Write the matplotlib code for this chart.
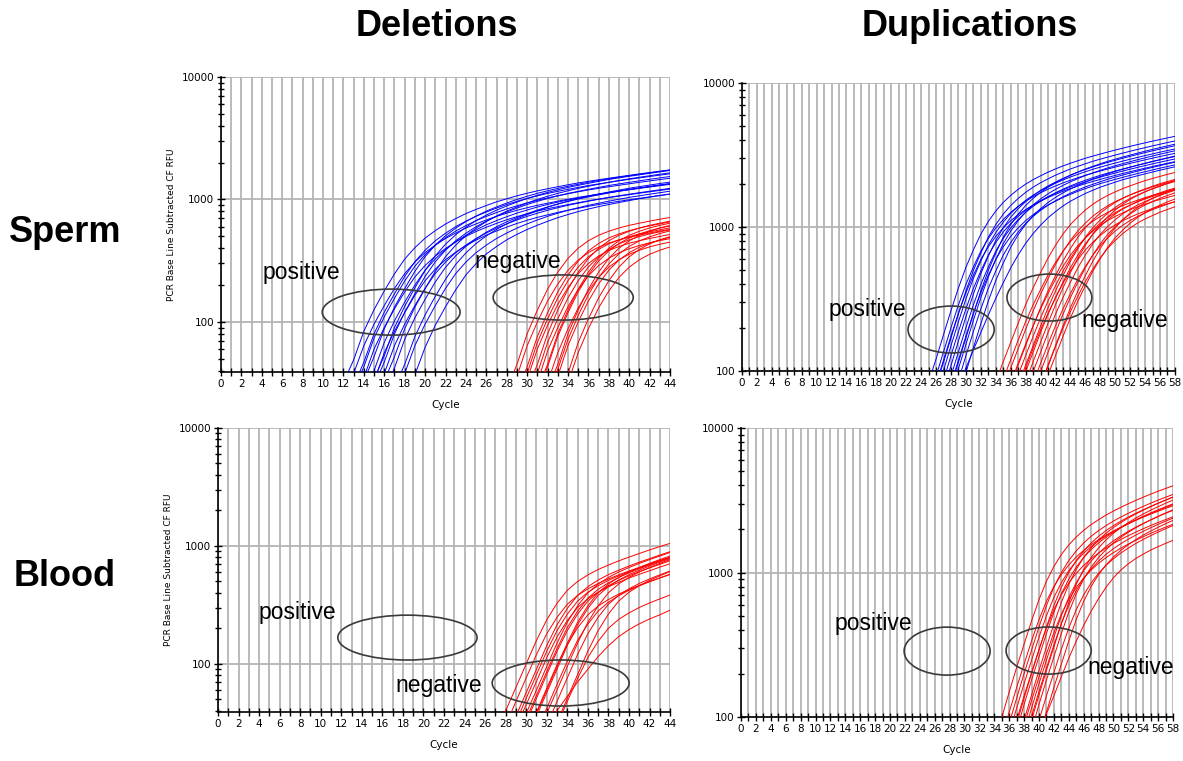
import matplotlib
matplotlib.use("Agg")
import matplotlib.pyplot as plt
from matplotlib.patches import Ellipse
from matplotlib.ticker import FixedLocator, FixedFormatter, LogLocator, NullFormatter

plt.rcParams['font.family'] = ['DejaVu Sans']

# each curve: first cycle, then RFU at every following cycle
del_sperm_pos_start = [12, 12, 13, 13, 14, 14, 15, 15, 16, 16, 17, 18, 13, 15, 17, 14]
del_sperm_pos = [
    [32, 49, 84, 126, 179, 247, 326, 404, 483, 557, 630, 698, 767, 830, 893, 956, 1013, 1071, 1124, 1176, 1223, 1271, 1318, 1365, 1407, 1449, 1491, 1533, 1575, 1617, 1659, 1701, 1743],
    [24, 38, 64, 96, 136, 188, 248, 308, 368, 424, 480, 532, 584, 632, 680, 728, 772, 816, 856, 896, 932, 968, 1004, 1040, 1072, 1104, 1136, 1168, 1200, 1232, 1264, 1296, 1328],
    [30, 47, 80, 120, 170, 235, 310, 385, 460, 530, 600, 665, 730, 790, 850, 910, 965, 1020, 1070, 1120, 1165, 1210, 1255, 1300, 1340, 1380, 1420, 1460, 1500, 1540, 1580, 1620],
    [23, 35, 60, 90, 128, 176, 233, 289, 345, 398, 450, 499, 548, 593, 638, 683, 724, 765, 803, 840, 874, 908, 941, 975, 1005, 1035, 1065, 1095, 1125, 1155, 1185, 1215],
    [33, 52, 88, 132, 187, 259, 341, 424, 506, 583, 660, 732, 803, 869, 935, 1001, 1062, 1122, 1177, 1232, 1282, 1331, 1381, 1430, 1474, 1518, 1562, 1606, 1650, 1694, 1738],
    [26, 40, 68, 102, 145, 200, 264, 327, 391, 451, 510, 565, 621, 672, 723, 774, 820, 867, 910, 952, 990, 1029, 1067, 1105, 1139, 1173, 1207, 1241, 1275, 1309, 1343],
    [30, 47, 80, 120, 170, 235, 310, 385, 460, 530, 600, 665, 730, 790, 850, 910, 965, 1020, 1070, 1120, 1165, 1210, 1255, 1300, 1340, 1380, 1420, 1460, 1500, 1540],
    [24, 38, 64, 96, 136, 188, 248, 308, 368, 424, 480, 532, 584, 632, 680, 728, 772, 816, 856, 896, 932, 968, 1004, 1040, 1072, 1104, 1136, 1168, 1200, 1232],
    [27, 42, 72, 108, 153, 212, 279, 347, 414, 477, 540, 599, 657, 711, 765, 819, 869, 918, 963, 1008, 1049, 1089, 1130, 1170, 1206, 1242, 1278, 1314, 1350],
    [33, 52, 88, 132, 187, 259, 341, 424, 506, 583, 660, 732, 803, 869, 935, 1001, 1062, 1122, 1177, 1232, 1282, 1331, 1381, 1430, 1474, 1518, 1562, 1606, 1650],
    [29, 45, 76, 114, 162, 223, 295, 366, 437, 504, 570, 632, 694, 751, 808, 865, 917, 969, 1017, 1064, 1107, 1150, 1192, 1235, 1273, 1311, 1349, 1387],
    [23, 37, 62, 94, 133, 183, 242, 300, 359, 413, 468, 519, 569, 616, 663, 710, 753, 796, 835, 874, 909, 944, 979, 1014, 1045, 1076, 1108],
    [28, 43, 74, 110, 156, 216, 285, 354, 423, 488, 552, 612, 672, 727, 782, 837, 888, 938, 984, 1030, 1072, 1113, 1155, 1196, 1233, 1270, 1306, 1343, 1380, 1417, 1454, 1490],
    [34, 53, 90, 134, 190, 263, 347, 431, 515, 594, 672, 745, 818, 885, 952, 1019, 1081, 1142, 1198, 1254, 1305, 1355, 1406, 1456, 1501, 1546, 1590, 1635, 1680, 1725],
    [24, 38, 64, 96, 136, 188, 248, 308, 368, 424, 480, 532, 584, 632, 680, 728, 772, 816, 856, 896, 932, 968, 1004, 1040, 1072, 1104, 1136, 1168],
    [21, 33, 56, 84, 119, 165, 217, 270, 322, 371, 420, 466, 511, 553, 595, 637, 676, 714, 749, 784, 816, 847, 879, 910, 938, 966, 994, 1022, 1050, 1078, 1106],
]

del_sperm_neg_start = [28, 28, 29, 29, 30, 30, 31, 31, 32, 32, 33, 33, 29, 30, 31, 32]
del_sperm_neg = [
    [28, 45, 80, 125, 185, 255, 330, 400, 460, 510, 550, 585, 615, 640, 665, 690, 712],
    [22, 36, 64, 100, 148, 204, 264, 320, 368, 408, 440, 468, 492, 512, 532, 552, 570],
    [27, 43, 76, 119, 176, 242, 314, 380, 437, 485, 523, 556, 584, 608, 632, 656],
    [21, 34, 60, 94, 139, 191, 248, 300, 345, 383, 413, 439, 461, 480, 499, 518],
    [28, 45, 80, 125, 185, 255, 330, 400, 460, 510, 550, 585, 615, 640, 665],
    [24, 38, 68, 106, 157, 217, 281, 340, 391, 434, 468, 497, 523, 544, 565],
    [27, 43, 76, 119, 176, 242, 314, 380, 437, 485, 523, 556, 584, 608],
    [20, 32, 56, 88, 130, 179, 231, 280, 322, 357, 385, 410, 431, 448],
    [28, 45, 80, 125, 185, 255, 330, 400, 460, 510, 550, 585, 615],
    [22, 36, 64, 100, 148, 204, 264, 320, 368, 408, 440, 468, 492],
    [24, 38, 68, 106, 157, 217, 281, 340, 391, 434, 468, 497],
    [20, 32, 56, 88, 130, 179, 231, 280, 322, 357, 385, 410],
    [24, 38, 68, 106, 157, 217, 281, 340, 391, 434, 468, 497, 523, 544, 565, 587],
    [20, 32, 58, 90, 133, 184, 238, 288, 331, 367, 396, 421, 443, 461, 479],
    [28, 45, 80, 125, 185, 255, 330, 400, 460, 510, 550, 585, 615, 640],
    [25, 41, 72, 113, 167, 230, 297, 360, 414, 459, 495, 527, 554],
]

dup_sperm_pos_start = [25, 25, 26, 26, 27, 27, 28, 28, 29, 29, 26, 27, 28, 25]
dup_sperm_pos = [
    [84, 121, 179, 263, 378, 525, 693, 893, 1092, 1292, 1481, 1659, 1827, 1985, 2132, 2268, 2405, 2531, 2657, 2772, 2888, 3003, 3108, 3213, 3318, 3423, 3528, 3633, 3738, 3843, 3948, 4053, 4158, 4263],
    [64, 92, 136, 200, 288, 400, 528, 680, 832, 984, 1128, 1264, 1392, 1512, 1624, 1728, 1832, 1928, 2024, 2112, 2200, 2288, 2368, 2448, 2528, 2608, 2688, 2768, 2848, 2928, 3008, 3088, 3168, 3248],
    [80, 115, 170, 250, 360, 500, 660, 850, 1040, 1230, 1410, 1580, 1740, 1890, 2030, 2160, 2290, 2410, 2530, 2640, 2750, 2860, 2960, 3060, 3160, 3260, 3360, 3460, 3560, 3660, 3760, 3860, 3960],
    [60, 86, 128, 188, 270, 375, 495, 638, 780, 923, 1058, 1185, 1305, 1418, 1523, 1620, 1718, 1808, 1898, 1980, 2063, 2145, 2220, 2295, 2370, 2445, 2520, 2595, 2670, 2745, 2820, 2895, 2970],
    [76, 109, 162, 238, 342, 475, 627, 808, 988, 1169, 1340, 1501, 1653, 1796, 1929, 2052, 2176, 2290, 2404, 2508, 2613, 2717, 2812, 2907, 3002, 3097, 3192, 3287, 3382, 3477, 3572, 3667],
    [56, 81, 119, 175, 252, 350, 462, 595, 728, 861, 987, 1106, 1218, 1323, 1421, 1512, 1603, 1687, 1771, 1848, 1925, 2002, 2072, 2142, 2212, 2282, 2352, 2422, 2492, 2562, 2632, 2702],
    [72, 104, 153, 225, 324, 450, 594, 765, 936, 1107, 1269, 1422, 1566, 1701, 1827, 1944, 2061, 2169, 2277, 2376, 2475, 2574, 2664, 2754, 2844, 2934, 3024, 3114, 3204, 3294, 3384],
    [60, 86, 128, 188, 270, 375, 495, 638, 780, 923, 1058, 1185, 1305, 1418, 1523, 1620, 1718, 1808, 1898, 1980, 2063, 2145, 2220, 2295, 2370, 2445, 2520, 2595, 2670, 2745, 2820],
    [68, 98, 145, 213, 306, 425, 561, 723, 884, 1046, 1199, 1343, 1479, 1607, 1726, 1836, 1947, 2049, 2151, 2244, 2338, 2431, 2516, 2601, 2686, 2771, 2856, 2941, 3026, 3111],
    [80, 105, 140, 185, 245, 320, 410, 520, 640, 770, 900, 1030, 1160, 1280, 1400, 1510, 1610, 1710, 1800, 1890, 1970, 2050, 2130, 2200, 2270, 2340, 2410, 2480, 2550, 2620],
    [70, 101, 150, 220, 317, 440, 581, 748, 915, 1082, 1241, 1390, 1531, 1663, 1786, 1901, 2015, 2121, 2226, 2323, 2420, 2517, 2605, 2693, 2781, 2869, 2957, 3045, 3133, 3221, 3309, 3397, 3485],
    [64, 92, 136, 200, 288, 400, 528, 680, 832, 984, 1128, 1264, 1392, 1512, 1624, 1728, 1832, 1928, 2024, 2112, 2200, 2288, 2368, 2448, 2528, 2608, 2688, 2768, 2848, 2928, 3008, 3088],
    [80, 115, 170, 250, 360, 500, 660, 850, 1040, 1230, 1410, 1580, 1740, 1890, 2030, 2160, 2290, 2410, 2530, 2640, 2750, 2860, 2960, 3060, 3160, 3260, 3360, 3460, 3560, 3660, 3760],
    [56, 81, 119, 175, 252, 350, 462, 595, 728, 861, 987, 1106, 1218, 1323, 1421, 1512, 1603, 1687, 1771, 1848, 1925, 2002, 2072, 2142, 2212, 2282, 2352, 2422, 2492, 2562, 2632, 2702, 2772, 2842],
]

dup_sperm_neg_start = [34, 34, 35, 35, 36, 36, 37, 38, 38, 39, 39, 40, 36, 37, 38, 40]
dup_sperm_neg = [
    [84, 116, 158, 215, 289, 378, 483, 609, 746, 893, 1040, 1176, 1313, 1439, 1554, 1659, 1754, 1848, 1932, 2016, 2100, 2174, 2247, 2321, 2394],
    [64, 88, 120, 164, 220, 288, 368, 464, 568, 680, 792, 896, 1000, 1096, 1184, 1264, 1336, 1408, 1472, 1536, 1600, 1656, 1712, 1768, 1824],
    [76, 105, 143, 195, 261, 342, 437, 551, 675, 808, 941, 1064, 1188, 1302, 1406, 1501, 1587, 1672, 1748, 1824, 1900, 1967, 2033, 2100],
    [60, 83, 113, 154, 206, 270, 345, 435, 533, 638, 743, 840, 938, 1028, 1110, 1185, 1253, 1320, 1380, 1440, 1500, 1553, 1605, 1658],
    [80, 110, 150, 205, 275, 360, 460, 580, 710, 850, 990, 1120, 1250, 1370, 1480, 1580, 1670, 1760, 1840, 1920, 2000, 2070, 2140],
    [56, 77, 105, 144, 193, 252, 322, 406, 497, 595, 693, 784, 875, 959, 1036, 1106, 1169, 1232, 1288, 1344, 1400, 1449, 1498],
    [72, 99, 135, 185, 248, 324, 414, 522, 639, 765, 891, 1008, 1125, 1233, 1332, 1422, 1503, 1584, 1656, 1728, 1800, 1863],
    [84, 116, 158, 215, 289, 378, 483, 609, 746, 893, 1040, 1176, 1313, 1439, 1554, 1659, 1754, 1848, 1932, 2016, 2100],
    [60, 83, 113, 154, 206, 270, 345, 435, 533, 638, 743, 840, 938, 1028, 1110, 1185, 1253, 1320, 1380, 1440, 1500],
    [72, 99, 135, 185, 248, 324, 414, 522, 639, 765, 891, 1008, 1125, 1233, 1332, 1422, 1503, 1584, 1656, 1728],
    [58, 79, 108, 148, 198, 259, 331, 418, 511, 612, 713, 806, 900, 986, 1066, 1138, 1202, 1267, 1325, 1382],
    [68, 94, 128, 174, 234, 306, 391, 493, 604, 723, 842, 952, 1063, 1165, 1258, 1343, 1420, 1496, 1564],
    [68, 94, 128, 174, 234, 306, 391, 493, 604, 723, 842, 952, 1063, 1165, 1258, 1343, 1420, 1496, 1564, 1632, 1700, 1760, 1819],
    [80, 110, 150, 205, 275, 360, 460, 580, 710, 850, 990, 1120, 1250, 1370, 1480, 1580, 1670, 1760, 1840, 1920, 2000, 2070],
    [72, 99, 135, 185, 248, 324, 414, 522, 639, 765, 891, 1008, 1125, 1233, 1332, 1422, 1503, 1584, 1656, 1728, 1800],
    [80, 110, 150, 205, 275, 360, 460, 580, 710, 850, 990, 1120, 1250, 1370, 1480, 1580, 1670, 1760, 1840],
]

del_blood_neg_start = [27, 27, 28, 28, 29, 29, 29, 30, 30, 31, 31, 32, 32, 28, 30, 31, 29]
del_blood_neg = [
    [26, 40, 63, 100, 158, 236, 326, 420, 499, 567, 630, 688, 746, 803, 861, 924, 987, 1050],
    [20, 30, 48, 76, 120, 180, 248, 320, 380, 432, 480, 524, 568, 612, 656, 704, 752, 800],
    [24, 36, 57, 90, 143, 214, 295, 380, 451, 513, 570, 622, 675, 727, 779, 836, 893],
    [19, 29, 45, 71, 113, 169, 233, 300, 356, 405, 450, 491, 533, 574, 615, 660, 705],
    [25, 38, 60, 95, 150, 225, 310, 400, 475, 540, 600, 655, 710, 765, 820, 880],
    [21, 32, 51, 81, 128, 191, 264, 340, 404, 459, 510, 557, 604, 650, 697, 748],
    [16, 25, 39, 62, 98, 146, 202, 260, 309, 351, 390, 426, 462, 497, 533, 572],
    [24, 36, 57, 90, 143, 214, 295, 380, 451, 513, 570, 622, 675, 727, 779],
    [18, 27, 42, 67, 105, 158, 217, 280, 333, 378, 420, 459, 497, 536, 574],
    [25, 38, 60, 95, 150, 225, 310, 400, 475, 540, 600, 655, 710, 765],
    [13, 19, 30, 48, 75, 113, 155, 200, 238, 270, 300, 328, 355, 383],
    [21, 32, 51, 81, 128, 191, 264, 340, 404, 459, 510, 557, 604],
    [30, 40, 53, 70, 90, 115, 142, 170, 195, 218, 240, 260, 285],
    [21, 32, 51, 81, 128, 191, 264, 340, 404, 459, 510, 557, 604, 650, 697, 748, 799],
    [25, 38, 60, 95, 150, 225, 310, 400, 475, 540, 600, 655, 710, 765, 820],
    [20, 30, 48, 76, 120, 180, 248, 320, 380, 432, 480, 524, 568, 612],
    [23, 34, 54, 86, 135, 203, 279, 360, 428, 486, 540, 590, 639, 689, 738, 792],
]

dup_blood_neg_start = [35, 35, 36, 36, 37, 37, 38, 38, 39, 39, 40, 40, 36, 37, 38, 39]
dup_blood_neg = [
    [99, 149, 220, 319, 462, 649, 869, 1100, 1331, 1551, 1760, 1958, 2145, 2321, 2497, 2662, 2827, 2992, 3157, 3322, 3487, 3652, 3817, 3982],
    [72, 108, 160, 232, 336, 472, 632, 800, 968, 1128, 1280, 1424, 1560, 1688, 1816, 1936, 2056, 2176, 2296, 2416, 2536, 2656, 2776, 2896],
    [90, 135, 200, 290, 420, 590, 790, 1000, 1210, 1410, 1600, 1780, 1950, 2110, 2270, 2420, 2570, 2720, 2870, 3020, 3170, 3320, 3470],
    [63, 95, 140, 203, 294, 413, 553, 700, 847, 987, 1120, 1246, 1365, 1477, 1589, 1694, 1799, 1904, 2009, 2114, 2219, 2324, 2429],
    [81, 122, 180, 261, 378, 531, 711, 900, 1089, 1269, 1440, 1602, 1755, 1899, 2043, 2178, 2313, 2448, 2583, 2718, 2853, 2988],
    [59, 88, 130, 189, 273, 384, 514, 650, 787, 917, 1040, 1157, 1268, 1372, 1476, 1573, 1671, 1768, 1866, 1963, 2061, 2158],
    [95, 142, 210, 305, 441, 620, 830, 1050, 1271, 1481, 1680, 1869, 2048, 2216, 2384, 2541, 2699, 2856, 3014, 3171, 3329],
    [68, 101, 150, 218, 315, 443, 593, 750, 908, 1058, 1200, 1335, 1463, 1583, 1703, 1815, 1928, 2040, 2153, 2265, 2378],
    [81, 122, 180, 261, 378, 531, 711, 900, 1089, 1269, 1440, 1602, 1755, 1899, 2043, 2178, 2313, 2448, 2583, 2718],
    [95, 142, 210, 305, 441, 620, 830, 1050, 1271, 1481, 1680, 1869, 2048, 2216, 2384, 2541, 2699, 2856, 3014, 3171],
    [72, 108, 160, 232, 336, 472, 632, 800, 968, 1128, 1280, 1424, 1560, 1688, 1816, 1936, 2056, 2176, 2296],
    [80, 105, 140, 190, 255, 335, 430, 540, 660, 790, 920, 1040, 1150, 1250, 1340, 1430, 1510, 1590, 1670],
    [77, 115, 170, 247, 357, 502, 672, 850, 1029, 1199, 1360, 1513, 1658, 1794, 1930, 2057, 2185, 2312, 2440, 2567, 2695, 2822, 2950],
    [90, 135, 200, 290, 420, 590, 790, 1000, 1210, 1410, 1600, 1780, 1950, 2110, 2270, 2420, 2570, 2720, 2870, 3020, 3170, 3320],
    [77, 115, 170, 247, 357, 502, 672, 850, 1029, 1199, 1360, 1513, 1658, 1794, 1930, 2057, 2185, 2312, 2440, 2567, 2695],
    [63, 95, 140, 203, 294, 413, 553, 700, 847, 987, 1120, 1246, 1365, 1477, 1589, 1694, 1799, 1904, 2009, 2114],
]

col_titles = ['Deletions', 'Duplications']
row_titles = ['Sperm', 'Blood']
ylabel = 'PCR Base Line Subtracted CF RFU'
BLUE = '#0000ff'
RED = '#ff0000'


def setup(ax, xmax, ymin, show_ylabel):
    ax.set_yscale('log')
    ax.set_xlim(0, xmax)
    ax.set_ylim(ymin, 10000)
    ax.xaxis.set_major_locator(FixedLocator(range(0, xmax + 1, 2)))
    ax.xaxis.set_minor_locator(FixedLocator(range(0, xmax + 1)))
    ax.yaxis.set_major_locator(FixedLocator([100, 1000, 10000]))
    ax.yaxis.set_major_formatter(FixedFormatter(['100', '1000', '10000']))
    ax.yaxis.set_minor_locator(LogLocator(base=10, subs=range(2, 10)))
    ax.yaxis.set_minor_formatter(NullFormatter())
    ax.grid(True, which='both', axis='x', color='#b4b4b4', lw=1.3)
    ax.grid(True, which='major', axis='y', color='#b4b4b4', lw=1.3)
    ax.set_axisbelow(True)
    for s in ['top', 'right']:
        ax.spines[s].set_visible(False)
    for s in ['left', 'bottom']:
        ax.spines[s].set_linewidth(1.2)
    ax.tick_params(axis='both', which='both', direction='inout', labelsize=7.5, pad=2)
    ax.tick_params(axis='x', which='both', length=6, width=1)
    ax.tick_params(axis='y', which='major', length=6, width=1)
    ax.tick_params(axis='y', which='minor', length=4, width=1)
    ax.set_xlabel('Cycle', fontsize=7.5, labelpad=8)
    if show_ylabel:
        ax.set_ylabel(ylabel, fontsize=6.5, labelpad=4)


def curves(ax, starts, data, color):
    for st, vals in zip(starts, data):
        ax.plot(range(st, st + len(vals)), vals, color=color, lw=0.7, zorder=3)


def mark(ax, cx, cy, w, h, label, tx, ty):
    ax.add_patch(Ellipse((cx, cy), w, h, transform=ax.transAxes, fill=False,
                         edgecolor='#3a3a3a', lw=1.2, zorder=5, clip_on=False))
    ax.text(tx, ty, label, transform=ax.transAxes, fontsize=16.5,
            family='Liberation Sans', ha='center', va='center', zorder=6)


fig = plt.figure(figsize=(11.83, 7.61), dpi=100)

ax_tl = fig.add_axes([0.1868, 0.5112, 0.3796, 0.3876])
ax_tr = fig.add_axes([0.6272, 0.5125, 0.3660, 0.3784])
ax_bl = fig.add_axes([0.1843, 0.0644, 0.3821, 0.3732])
ax_br = fig.add_axes([0.6264, 0.0578, 0.3652, 0.3798])

setup(ax_tl, 44, 39, True)
setup(ax_tr, 58, 100, False)
setup(ax_bl, 44, 39, True)
setup(ax_br, 58, 100, False)

curves(ax_tl, del_sperm_pos_start, del_sperm_pos, BLUE)
curves(ax_tl, del_sperm_neg_start, del_sperm_neg, RED)
curves(ax_tr, dup_sperm_pos_start, dup_sperm_pos, BLUE)
curves(ax_tr, dup_sperm_neg_start, dup_sperm_neg, RED)
curves(ax_bl, del_blood_neg_start, del_blood_neg, RED)
curves(ax_br, dup_blood_neg_start, dup_blood_neg, RED)

mark(ax_tl, 0.379, 0.203, 0.307, 0.156, 'positive', 0.178, 0.336)
mark(ax_tl, 0.762, 0.2525, 0.312, 0.153, 'negative', 0.661, 0.373)
mark(ax_tr, 0.483, 0.144, 0.199, 0.163, 'positive', 0.289, 0.212)
mark(ax_tr, 0.710, 0.255, 0.196, 0.163, 'negative', 0.885, 0.177)
mark(ax_bl, 0.419, 0.262, 0.308, 0.158, 'positive', 0.175, 0.349)
mark(ax_bl, 0.758, 0.102, 0.303, 0.162, 'negative', 0.489, 0.092)
mark(ax_br, 0.477, 0.228, 0.199, 0.166, 'positive', 0.306, 0.325)
mark(ax_br, 0.712, 0.230, 0.197, 0.163, 'negative', 0.901, 0.170)

title_kw = dict(fontsize=26, fontweight='bold', family='Liberation Sans',
                ha='center', va='center')
fig.text(437 / 1183, 1 - 27 / 761, col_titles[0], **title_kw)
fig.text(970 / 1183, 1 - 27 / 761, col_titles[1], **title_kw)
fig.text(65 / 1183, 1 - 232 / 761, row_titles[0], **title_kw)
fig.text(65 / 1183, 1 - 577 / 761, row_titles[1], **title_kw)

fig.savefig('out.png', dpi=100)
